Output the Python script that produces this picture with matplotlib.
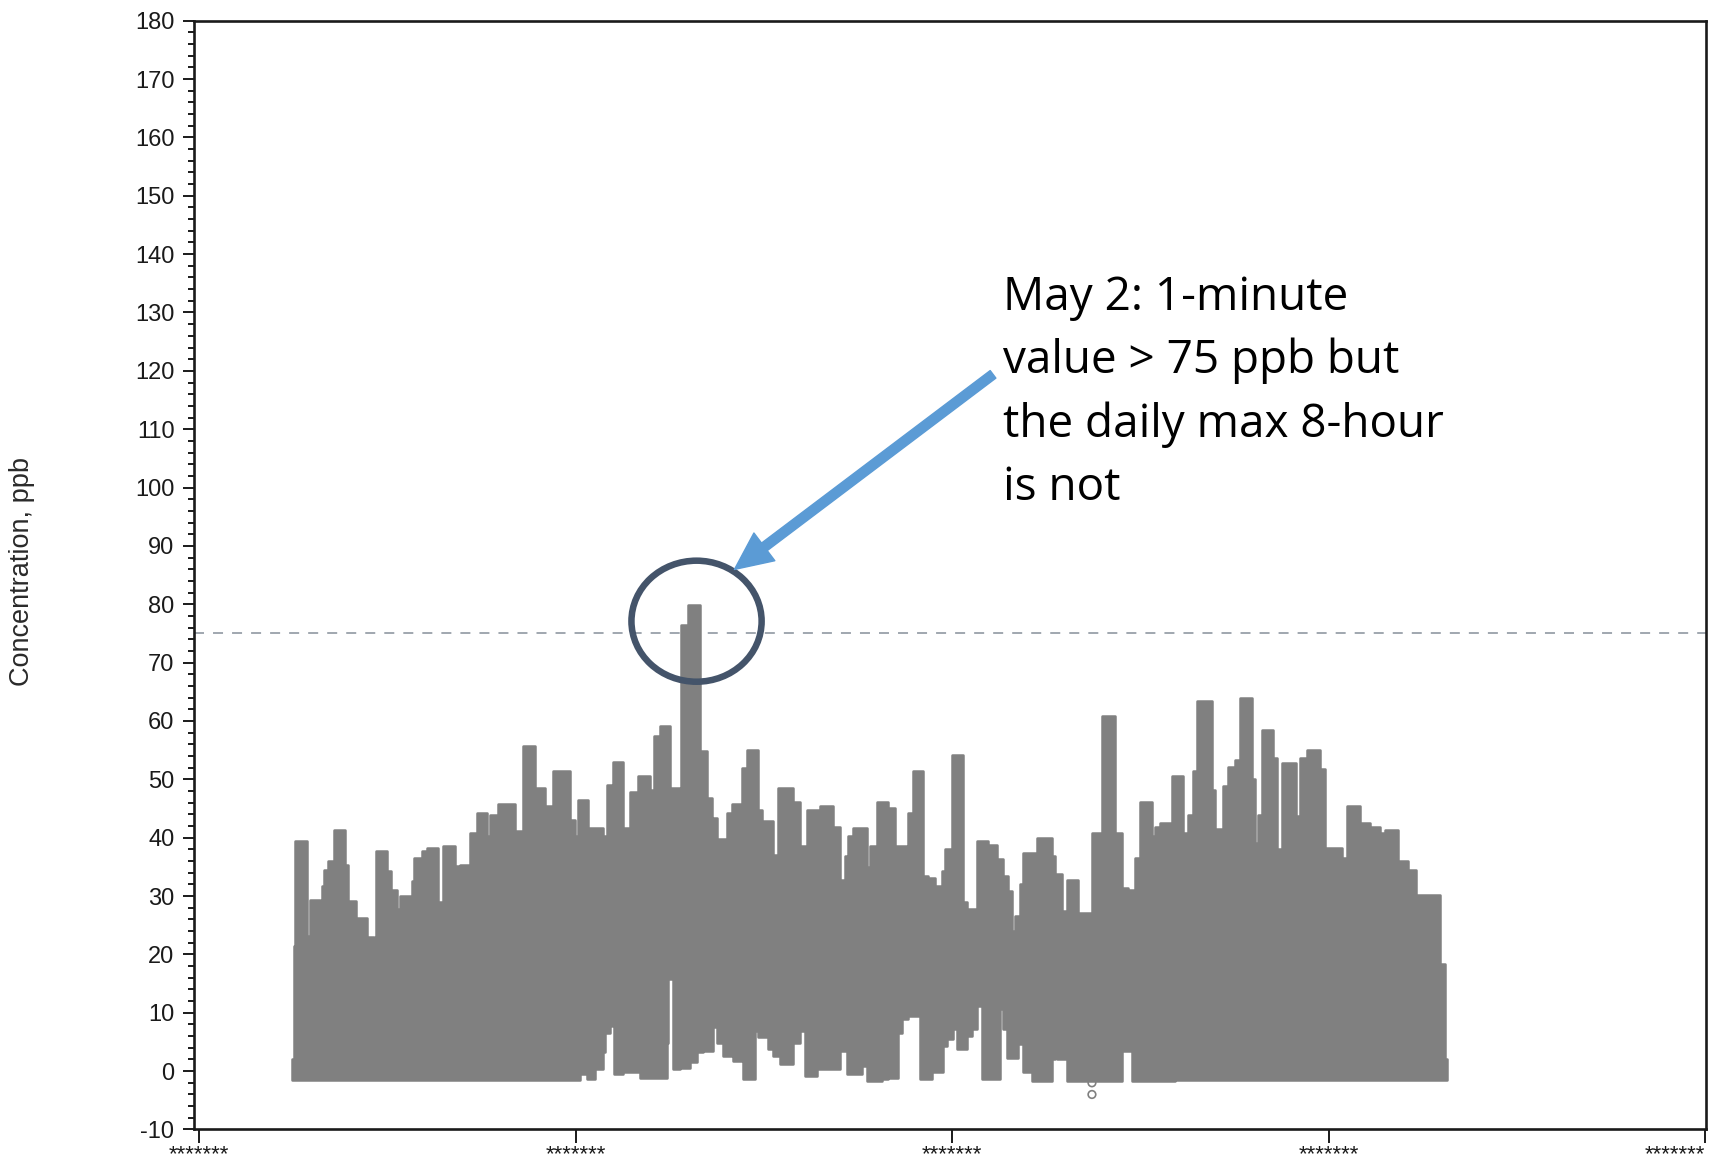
import numpy as np
import matplotlib
matplotlib.use("Agg")
import matplotlib.pyplot as plt
from matplotlib.ticker import MultipleLocator, FixedLocator
from matplotlib.patches import Ellipse

plt.rcParams['font.family'] = ['Liberation Sans', 'DejaVu Sans']
plt.rcParams['lines.scale_dashes'] = False
plt.rcParams['axes.unicode_minus'] = False

# ---------------- data (time in days from start of record, concentration ppb) -------------
# upper envelope of the 1-minute values: step starts (days) and level (ppb)
upper_t = [0.000, 0.160, 0.213, 1.142, 1.408, 2.204, 2.337, 2.550, 2.815, 3.346, 4.196, 4.461,
           5.046, 5.922, 6.533, 6.639, 7.515, 7.861, 8.312, 8.577, 9.507, 9.719, 10.304, 10.702,
           11.631, 12.030, 12.959, 13.357, 14.154, 14.685, 15.482, 15.747, 16.411, 17.739, 18.403,
           19.332, 20.129, 20.793, 22.121, 22.519, 22.731, 23.581, 24.776, 25.041, 25.573, 26.369,
           26.900, 27.564, 28.494, 28.812, 29.290, 30.087, 30.937, 31.548, 32.477, 33.008, 33.406,
           33.805, 34.601, 35.000, 35.796, 36.195, 37.124, 37.389, 38.319, 38.717, 39.912, 40.443,
           40.974, 42.037, 43.099, 43.630, 44.028, 44.293, 44.692, 45.754, 46.019, 46.550, 47.479,
           48.010, 48.940, 49.073, 49.471, 50.267, 50.666, 51.197, 51.728, 51.993, 52.524, 53.454,
           53.719, 54.516, 55.446, 56.110, 56.641, 57.039, 57.305, 57.570, 57.969, 58.234, 59.296,
           60.491, 60.757, 61.288, 61.686, 62.616, 63.678, 64.474, 65.537, 66.068, 66.599, 67.130,
           67.528, 68.458, 68.723, 69.121, 70.050, 70.979, 71.377, 71.776, 72.041, 73.236, 73.502,
           74.166, 74.564, 75.095, 75.494, 76.423, 76.689, 76.954, 77.220, 78.149, 78.415, 78.813,
           79.955, 80.273, 80.804, 81.867, 82.265, 83.593, 83.991, 85.053, 85.850, 86.646, 87.045,
           88.107, 88.904, 89.514, 91.426, 91.825]
upper_v = [2.0, 21.4, 39.4, 23.2, 29.4, 28.0, 31.7, 34.5, 36.0, 41.4, 35.4, 29.1,
           26.3, 23.0, 21.4, 37.7, 34.3, 31.1, 27.7, 30.0, 32.5, 36.5, 37.7, 38.3,
           28.9, 38.6, 35.1, 35.4, 40.8, 44.2, 40.3, 43.9, 45.7, 41.1, 55.8,
           48.5, 45.4, 51.4, 43.1, 40.3, 46.5, 41.6, 40.3, 49.0, 52.9, 41.6,
           47.9, 50.5, 48.2, 57.4, 59.1, 48.5, 76.5, 79.9, 54.8, 46.8, 43.4,
           39.7, 44.2, 45.8, 52.0, 55.1, 44.8, 42.8, 37.1, 48.5, 46.2, 38.6,
           44.8, 45.4, 41.9, 32.8, 36.8, 40.3, 41.6, 35.0, 38.6, 46.2, 45.1,
           38.6, 37.0, 44.2, 51.4, 33.4, 33.1, 31.7, 34.3, 38.0, 54.2, 28.9,
           27.7, 39.4, 38.8, 36.3, 33.4, 30.8, 24.0, 26.6, 32.0, 37.4, 40.0,
           36.8, 33.7, 27.4, 32.8, 27.1, 40.8, 60.8, 40.8, 31.4, 31.1, 36.5,
           46.2, 40.3, 41.9, 42.5, 50.5, 40.8, 43.9, 51.4, 63.4, 48.2, 41.5,
           48.8, 52.2, 53.4, 63.9, 50.0, 39.1, 43.9, 58.5, 53.7, 38.0, 52.8,
           43.7, 53.7, 55.1, 51.7, 38.3, 36.5, 45.4, 42.5, 41.9, 40.8, 41.4,
           36.0, 34.5, 30.1, 18.3, 2.1]

# lower envelope of the 1-minute values
lower_t = [0.000, 22.917, 23.448, 24.112, 24.776, 24.909, 25.307, 25.493, 25.652, 26.369, 27.697,
           29.821, 29.954, 30.299, 30.884, 31.680, 32.211, 32.742, 33.539, 33.858, 34.336, 35.132,
           35.929, 36.858, 37.124, 37.921, 38.319, 38.850, 39.912, 40.443, 40.841, 41.771, 43.630,
           44.161, 45.356, 45.754, 46.948, 47.479, 48.276, 48.541, 49.073, 50.002, 50.931, 51.861,
           52.126, 52.657, 52.923, 53.719, 54.118, 54.516, 54.915, 56.375, 56.641, 56.906, 57.836,
           58.234, 58.898, 60.491, 60.757, 60.943, 61.686, 66.068, 66.864, 70.316]
lower_v = [-1.5, -0.5, -1.4, 0.3, 3.2, 6.6, 7.8, 16.9, -0.5, -0.2, -1.1,
           4.9, 15.8, 0.3, 0.6, 1.5, 3.2, 3.5, 7.5, 4.9, 2.6, 1.8,
           -1.4, 6.9, 5.8, 3.8, 2.6, 1.2, 4.9, 6.9, -0.8, 0.3, 3.5,
           -0.5, 0.9, -1.7, -1.4, -1.1, 6.6, 8.9, 9.5, -1.4, -0.2, 4.3,
           5.5, 7.2, 3.8, 6.0, 7.2, 11.2, -1.4, 10.6, 7.2, 2.3, 4.6,
           -0.2, -1.7, 2.1, 10.0, 2.1, -1.7, 3.5, -1.7, -1.5]

record_end = 92.011

# isolated low readings
outlier_t = [63.7, 63.7]
outlier_v = [-2.0, -4.0]

standard_ppb = 75

# axis: five date ticks 30 days apart (labels overflowed in the original)
xtick_days = [-7.435, 22.565, 52.565, 82.565, 112.565]
xtick_labels = ["*******"] * 5
ylabel = "Concentration, ppb"

note_lines = ["May 2: 1-minute", "value > 75 ppb but", "the daily max 8-hour", "is not"]

# ---------------- figure ----------------
fig = plt.figure(figsize=(17.24, 11.70), dpi=100)
ax = fig.add_axes([0.11224, 0.03462, 0.87732, 0.94769])

ut = np.array(upper_t); uv = np.array(upper_v)
lt = np.array(lower_t); lv = np.array(lower_v)
grid = np.unique(np.concatenate([ut, lt, [record_end]]))
up = uv[np.searchsorted(ut, grid, side='right') - 1]
lo = lv[np.searchsorted(lt, grid, side='right') - 1]

gray = '#808080'
ax.axhline(standard_ppb, color='#A0A7AF', lw=1.4, dashes=(7.2, 6.5), zorder=1)
ax.fill_between(grid, lo, up, step='post', facecolor=gray, edgecolor=gray,
                linewidth=1.8, joinstyle='round', zorder=2)
ax.scatter(outlier_t, outlier_v, s=30, facecolors='none', edgecolors=gray, linewidths=1.2, zorder=2)

ax.set_xlim(-7.873, 112.617)
ax.set_ylim(-10, 180)

# y axis ticks
ax.yaxis.set_major_locator(MultipleLocator(10))
ax.yaxis.set_minor_locator(MultipleLocator(2))
ax.tick_params(axis='y', which='major', direction='out', length=7.7, width=1.4,
               labelsize=17, pad=6, colors='#1a1a1a')
ax.tick_params(axis='y', which='minor', direction='out', length=4.3, width=1.4, colors='#1a1a1a')

ax.xaxis.set_major_locator(FixedLocator(xtick_days))
ax.set_xticklabels(xtick_labels)
ax.tick_params(axis='x', which='major', direction='out', length=10, width=1.4,
               labelsize=16, pad=0.5, colors='#1a1a1a')
xl = ax.get_xticklabels()
xl[-1].set_horizontalalignment('right')

for s in ax.spines.values():
    s.set_linewidth(1.9)
    s.set_color('#1a1a1a')

ax.set_ylabel(ylabel, fontsize=19.5, color='#2a2a2a')
ax.yaxis.set_label_coords(-0.105, 0.503)

# annotation: circle around the May 2 peak
ax.add_patch(Ellipse((32.2, 77.1), 10.37, 20.74, fill=False, edgecolor='#44546A',
                     linewidth=4.7, zorder=5))

# arrow from the note to the circle
ax.annotate('', xy=(35.22, 85.97), xytext=(55.82, 119.4),
            arrowprops=dict(arrowstyle='simple,head_length=1.35,head_width=1.25,tail_width=0.34',
                            mutation_scale=20, color='#5B9BD5', shrinkA=0, shrinkB=0),
            zorder=6)

for i, line in enumerate(note_lines):
    ax.text(56.64, 130.4 - i * 10.83, line, fontsize=33, family=['Open Sans', 'DejaVu Sans'],
            ha='left', va='baseline', color='black', zorder=6)

fig.savefig('out.png', dpi=100)
